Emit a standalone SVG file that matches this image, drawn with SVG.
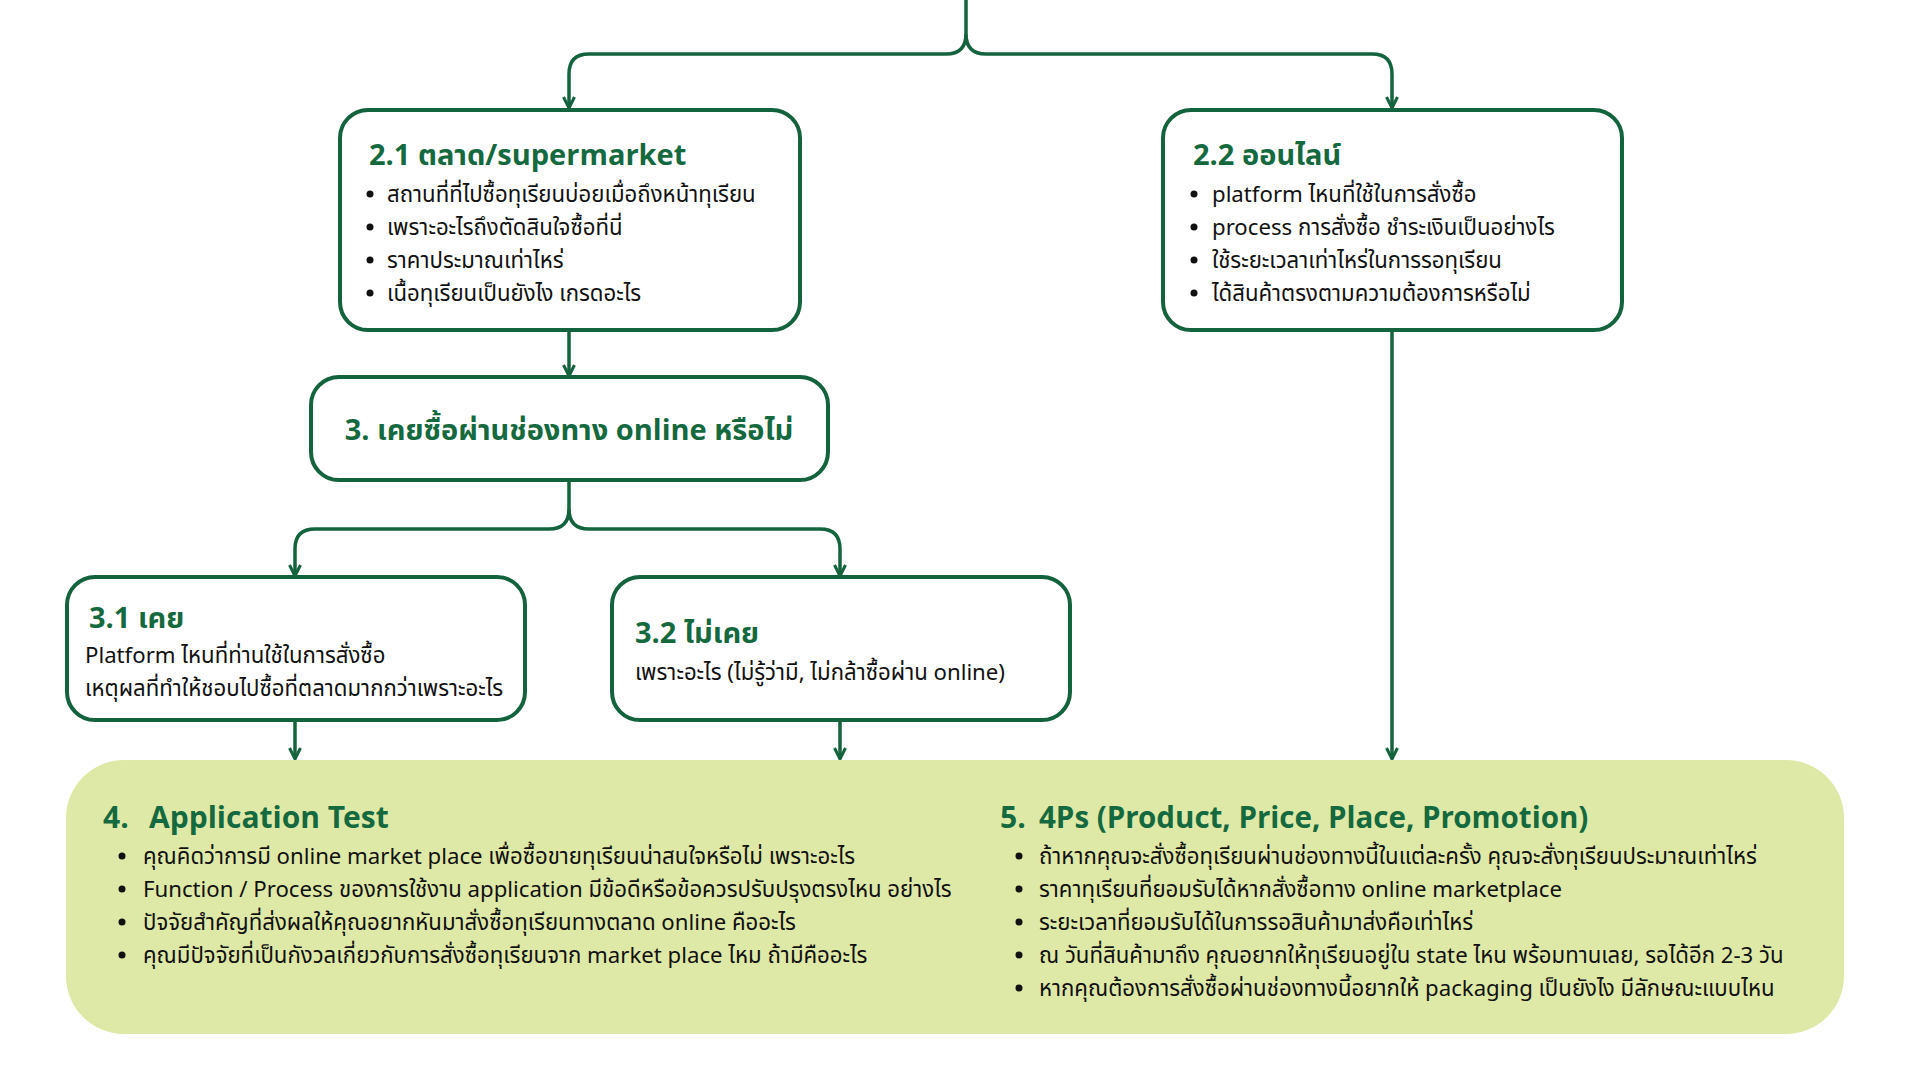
<svg xmlns="http://www.w3.org/2000/svg" width="1920" height="1080" viewBox="0 0 1920 1080">
<defs>
<marker id="arr" viewBox="0 0 14 14" refX="12" refY="7" markerWidth="14" markerHeight="14" markerUnits="userSpaceOnUse" orient="auto">
<path d="M1,1.5 L12,7 L1,12.5" fill="none" stroke="#14633f" stroke-width="3" stroke-linejoin="miter"/>
</marker>
<style>
.box{fill:#ffffff;stroke:#14633f;stroke-width:4}
.big{fill:#dfe9a7;stroke:none}
.con{fill:none;stroke:#14633f;stroke-width:3.5}
.ttl{font-family:"Noto Sans Thai","Noto Sans","Liberation Sans",sans-serif;font-weight:700;fill:#14693f}
.txt{font-family:"Noto Sans Thai","Noto Sans","Liberation Sans",sans-serif;font-size:22.2px;fill:#111111}
.dot{fill:#111111}
</style>
</defs>
<rect width="1920" height="1080" fill="#ffffff"/>

<g id="connectors">
<path class="con" d="M966,0 V34 Q966,54 946,54 H589 Q569,54 569,74 V108" marker-end="url(#arr)"/>
<path class="con" d="M966,34 Q966,54 986,54 H1372 Q1392,54 1392,74 V108" marker-end="url(#arr)"/>
<path class="con" d="M569,331 V376" marker-end="url(#arr)"/>
<path class="con" d="M569,480 V509 Q569,529 549,529 H315 Q295,529 295,549 V576" marker-end="url(#arr)"/>
<path class="con" d="M569,509 Q569,529 589,529 H820 Q840,529 840,549 V576" marker-end="url(#arr)"/>
<path class="con" d="M295,720 V759" marker-end="url(#arr)"/>
<path class="con" d="M840,720 V759" marker-end="url(#arr)"/>
<path class="con" d="M1392,331 V759" marker-end="url(#arr)"/>
</g>

<g id="node-2-1">
<rect class="box" x="340" y="110" width="460" height="220" rx="28"/>
<text class="ttl" x="369" y="165" font-size="29">2.1 ตลาด/supermarket</text>
<circle class="dot" cx="370" cy="194" r="3.5"/>
<circle class="dot" cx="370" cy="227" r="3.5"/>
<circle class="dot" cx="370" cy="260" r="3.5"/>
<circle class="dot" cx="370" cy="293" r="3.5"/>
<text class="txt" x="387" y="202">สถานที่ที่ไปซื้อทุเรียนบ่อยเมื่อถึงหน้าทุเรียน</text>
<text class="txt" x="387" y="235">เพราะอะไรถึงตัดสินใจซื้อที่นี่</text>
<text class="txt" x="387" y="268">ราคาประมาณเท่าไหร่</text>
<text class="txt" x="387" y="301">เนื้อทุเรียนเป็นยังไง เกรดอะไร</text>
</g>

<g id="node-2-2">
<rect class="box" x="1163" y="110" width="459" height="220" rx="28"/>
<text class="ttl" x="1193" y="165" font-size="29">2.2 ออนไลน์</text>
<circle class="dot" cx="1194" cy="194" r="3.5"/>
<circle class="dot" cx="1194" cy="227" r="3.5"/>
<circle class="dot" cx="1194" cy="260" r="3.5"/>
<circle class="dot" cx="1194" cy="293" r="3.5"/>
<text class="txt" x="1212" y="202">platform ไหนที่ใช้ในการสั่งซื้อ</text>
<text class="txt" x="1212" y="235">process การสั่งซื้อ ชำระเงินเป็นอย่างไร</text>
<text class="txt" x="1212" y="268">ใช้ระยะเวลาเท่าไหร่ในการรอทุเรียน</text>
<text class="txt" x="1212" y="301">ได้สินค้าตรงตามความต้องการหรือไม่</text>
</g>

<g id="node-3">
<rect class="box" x="311" y="377" width="517" height="103" rx="28"/>
<text class="ttl" x="569" y="440" font-size="29" text-anchor="middle">3. เคยซื้อผ่านช่องทาง online หรือไม่</text>
</g>

<g id="node-3-1">
<rect class="box" x="67" y="577" width="458" height="143" rx="28"/>
<text class="ttl" x="89" y="628" font-size="29">3.1 เคย</text>
<text class="txt" x="85" y="663">Platform ไหนที่ท่านใช้ในการสั่งซื้อ</text>
<text class="txt" x="85" y="696">เหตุผลที่ทำให้ชอบไปซื้อที่ตลาดมากกว่าเพราะอะไร</text>
</g>

<g id="node-3-2">
<rect class="box" x="612" y="577" width="458" height="143" rx="28"/>
<text class="ttl" x="635" y="643" font-size="29">3.2 ไม่เคย</text>
<text class="txt" x="635" y="680">เพราะอะไร (ไม่รู้ว่ามี, ไม่กล้าซื้อผ่าน online)</text>
</g>

<g id="node-4-5">
<rect class="big" x="66" y="760" width="1778" height="274" rx="58"/>
</g>

<g id="node-4">
<text class="ttl" x="103" y="828" font-size="30">4.</text>
<text class="ttl" x="149" y="828" font-size="30">Application Test</text>
<circle class="dot" cx="122" cy="856" r="3.5"/>
<circle class="dot" cx="122" cy="889" r="3.5"/>
<circle class="dot" cx="122" cy="922" r="3.5"/>
<circle class="dot" cx="122" cy="955" r="3.5"/>
<text class="txt" x="143" y="864">คุณคิดว่าการมี online market place เพื่อซื้อขายทุเรียนน่าสนใจหรือไม่ เพราะอะไร</text>
<text class="txt" x="143" y="897">Function / Process ของการใช้งาน application มีข้อดีหรือข้อควรปรับปรุงตรงไหน อย่างไร</text>
<text class="txt" x="143" y="930">ปัจจัยสำคัญที่ส่งผลให้คุณอยากหันมาสั่งซื้อทุเรียนทางตลาด online คืออะไร</text>
<text class="txt" x="143" y="963">คุณมีปัจจัยที่เป็นกังวลเกี่ยวกับการสั่งซื้อทุเรียนจาก market place ไหม ถ้ามีคืออะไร</text>
</g>

<g id="node-5">
<text class="ttl" x="1000" y="828" font-size="30">5.</text>
<text class="ttl" x="1039" y="828" font-size="29.5">4Ps (Product, Price, Place, Promotion)</text>
<circle class="dot" cx="1019" cy="856" r="3.5"/>
<circle class="dot" cx="1019" cy="889" r="3.5"/>
<circle class="dot" cx="1019" cy="922" r="3.5"/>
<circle class="dot" cx="1019" cy="955" r="3.5"/>
<circle class="dot" cx="1019" cy="988" r="3.5"/>
<text class="txt" x="1039" y="864">ถ้าหากคุณจะสั่งซื้อทุเรียนผ่านช่องทางนี้ในแต่ละครั้ง คุณจะสั่งทุเรียนประมาณเท่าไหร่</text>
<text class="txt" x="1039" y="897">ราคาทุเรียนที่ยอมรับได้หากสั่งซื้อทาง online marketplace</text>
<text class="txt" x="1039" y="930">ระยะเวลาที่ยอมรับได้ในการรอสินค้ามาส่งคือเท่าไหร่</text>
<text class="txt" x="1039" y="963">ณ วันที่สินค้ามาถึง คุณอยากให้ทุเรียนอยู่ใน state ไหน พร้อมทานเลย, รอได้อีก 2-3 วัน</text>
<text class="txt" x="1039" y="996">หากคุณต้องการสั่งซื้อผ่านช่องทางนี้อยากให้ packaging เป็นยังไง มีลักษณะแบบไหน</text>
</g>
</svg>
